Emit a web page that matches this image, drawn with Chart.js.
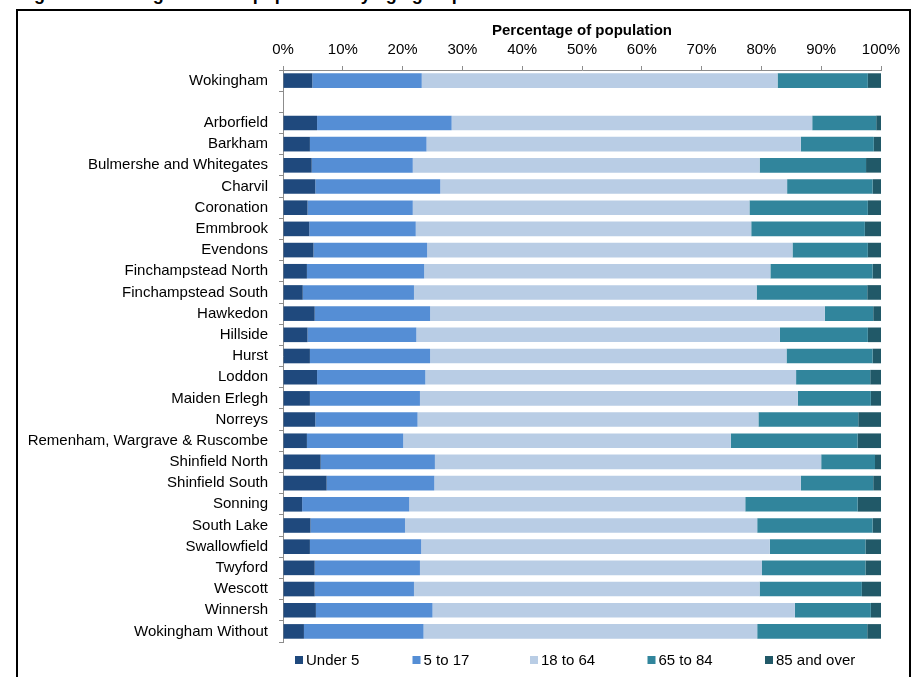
<!DOCTYPE html>
<html>
<head>
<meta charset="utf-8">
<title>Ward population by age group</title>
<script src="https://cdn.jsdelivr.net/npm/chart.js@4.4.0/dist/chart.umd.min.js"></script>
<style>
    html, body { margin: 0; padding: 0; background: #fff; overflow: hidden; }
    body { width: 912px; height: 677px; position: relative; }
    #figTitle {
        position: absolute; left: 18px; top: -15px;
        font: bold 18px Arial, "Liberation Sans", sans-serif;
        line-height: 18px; white-space: nowrap; color: #000;
    }
    #frame {
        position: absolute; left: 16px; top: 9px;
        width: 895px; height: 720px;
        border: 2px solid #000; box-sizing: border-box;
    }
    #chartWrap { position: absolute; left: 0; top: 0; width: 912px; height: 677px; }
</style>
</head>
<body>
<div id="figTitle">Figure 3: Wokingham ward population by age group in 2011</div>
<div id="frame"></div>
<div id="chartWrap"><canvas id="ageChart" width="912" height="677"></canvas></div>

<script>
// Wards (blank entry keeps the gap under the borough total)
const wards = [
    'Wokingham', '',
    'Arborfield', 'Barkham', 'Bulmershe and Whitegates', 'Charvil', 'Coronation',
    'Emmbrook', 'Evendons', 'Finchampstead North', 'Finchampstead South', 'Hawkedon',
    'Hillside', 'Hurst', 'Loddon', 'Maiden Erlegh', 'Norreys',
    'Remenham, Wargrave & Ruscombe', 'Shinfield North', 'Shinfield South', 'Sonning',
    'South Lake', 'Swallowfield', 'Twyford', 'Wescott', 'Winnersh', 'Wokingham Without'
];

const ageGroups = ['Under 5', '5 to 17', '18 to 64', '65 to 84', '85 and over'];
const ageColors = ['#1F497D', '#558ED5', '#B9CDE5', '#31859C', '#215968'];

// percentage of population in each age group
const under5 = [4.9, null, 5.7, 4.5, 4.8, 5.4, 4.1, 4.4, 5.1, 4.0, 3.3, 5.3, 4.1, 4.5, 5.7, 4.5, 5.4, 4.0, 6.3, 7.3, 3.2, 4.6, 4.5, 5.3, 5.3, 5.5, 3.5];
const age5to17 = [18.3, null, 22.5, 19.5, 16.9, 20.9, 17.6, 17.8, 19.0, 19.6, 18.6, 19.3, 18.2, 20.1, 18.1, 18.4, 17.1, 16.1, 19.1, 18.0, 17.9, 15.8, 18.6, 17.6, 16.6, 19.5, 20.0];
const age18to64 = [59.5, null, 60.3, 62.6, 58.0, 58.0, 56.3, 56.1, 61.1, 57.9, 57.3, 66.0, 60.8, 59.6, 62.0, 63.2, 57.0, 54.8, 64.6, 61.3, 56.2, 58.9, 58.3, 57.2, 57.8, 60.6, 55.8];
const age65to84 = [15.1, null, 10.7, 12.2, 17.8, 14.3, 19.8, 19.0, 12.6, 17.1, 18.5, 8.1, 14.7, 14.4, 12.4, 12.2, 16.7, 21.2, 9.0, 12.1, 18.8, 19.3, 16.0, 17.3, 17.1, 12.7, 18.4];
const age85plus = [2.2, null, 0.8, 1.2, 2.5, 1.4, 2.2, 2.7, 2.2, 1.4, 2.3, 1.3, 2.2, 1.4, 1.8, 1.7, 3.8, 3.9, 1.0, 1.3, 3.9, 1.4, 2.6, 2.6, 3.2, 1.7, 2.3];

const seriesValues = [under5, age5to17, age18to64, age65to84, age85plus];

const axisTitle = 'Percentage of population';
const axisGrey = '#8c8c8c';

Chart.defaults.font.family = 'Arial, "Liberation Sans", sans-serif';
Chart.defaults.color = '#000';

// Excel style legend: evenly spaced entries under the plot
const bottomLegend = {
    id: 'bottomLegend',
    afterDraw(chart) {
        const ctx = chart.ctx;
        const left = chart.chartArea.left + 12;
        const y = chart.chartArea.bottom + 18;
        ctx.save();
        ctx.font = '15px Arial, "Liberation Sans", sans-serif';
        ctx.textBaseline = 'middle';
        ctx.textAlign = 'left';
        chart.data.datasets.forEach((ds, i) => {
            const x = left + i * 117.5;
            ctx.fillStyle = ds.backgroundColor;
            ctx.fillRect(x, y - 4, 8, 8);
            ctx.fillStyle = '#000';
            ctx.fillText(ds.label, x + 11, y + 1);
        });
        ctx.restore();
    }
};

const ctx = document.getElementById('ageChart');

new Chart(ctx, {
    type: 'bar',
    data: {
        labels: wards,
        datasets: ageGroups.map((name, i) => ({
            label: name,
            data: seriesValues[i],
            backgroundColor: ageColors[i],
            borderWidth: 0,
            barPercentage: 0.69,
            categoryPercentage: 1.0
        }))
    },
    options: {
        indexAxis: 'y',
        responsive: false,
        animation: false,
        layout: {
            padding: { left: 0, top: 0, right: 31, bottom: 35 }
        },
        plugins: {
            legend: { display: false },
            tooltip: { enabled: false }
        },
        scales: {
            x: {
                position: 'top',
                stacked: true,
                min: 0,
                max: 100,
                ticks: {
                    stepSize: 10,
                    padding: 7,
                    font: { size: 15 },
                    color: '#000',
                    callback: (value) => `${value}%`
                },
                grid: {
                    drawOnChartArea: false,
                    drawTicks: true,
                    tickLength: 4,
                    color: axisGrey
                },
                border: { color: axisGrey },
                title: {
                    display: true,
                    text: axisTitle,
                    color: '#000',
                    font: { size: 15, weight: 'bold' },
                    padding: { top: 22, bottom: 0 }
                },
                afterFit: (scale) => { scale.height = 70; }
            },
            y: {
                stacked: true,
                ticks: {
                    autoSkip: false,
                    padding: 11,
                    font: { size: 15 },
                    color: '#000'
                },
                grid: {
                    drawOnChartArea: false,
                    drawTicks: true,
                    tickLength: 4,
                    offset: true,
                    color: axisGrey
                },
                border: { color: axisGrey },
                afterFit: (scale) => { scale.width = 283; }
            }
        }
    },
    plugins: [bottomLegend]
});
</script>
</body>
</html>
